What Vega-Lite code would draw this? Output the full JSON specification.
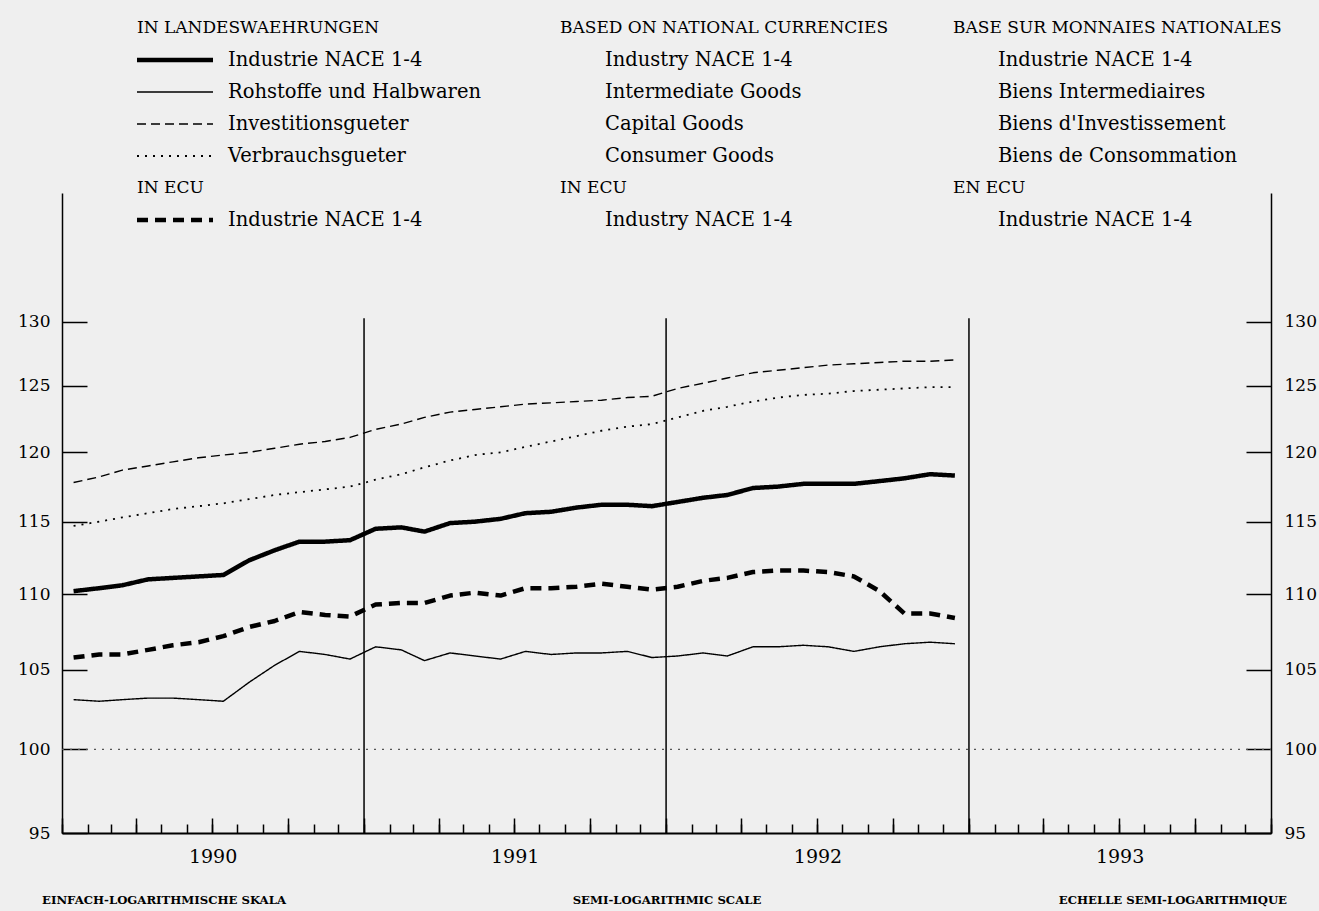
{
  "$schema": "https://vega.github.io/schema/vega-lite/v6.json",
  "width": 1209,
  "height": 640,
  "autosize": {"type": "none"},
  "padding": {"left": 62, "top": 193, "right": 48, "bottom": 78},
  "background": "#efefef",
  "config": {
    "view": {"stroke": null},
    "font": "DejaVu Serif",
    "axis": {"labelFont": "DejaVu Serif", "labelColor": "#000", "domainColor": "#000", "tickColor": "#000", "grid": false, "title": null}
  },
  "datasets": {
    "series": [
      {"m": "1990-01-15", "s": "ind", "v": 110.2}, {"m": "1990-02-15", "s": "ind", "v": 110.4}, {"m": "1990-03-15", "s": "ind", "v": 110.6}, {"m": "1990-04-15", "s": "ind", "v": 111.0}, {"m": "1990-05-15", "s": "ind", "v": 111.1}, {"m": "1990-06-15", "s": "ind", "v": 111.2}, {"m": "1990-07-15", "s": "ind", "v": 111.3}, {"m": "1990-08-15", "s": "ind", "v": 112.3}, {"m": "1990-09-15", "s": "ind", "v": 113.0}, {"m": "1990-10-15", "s": "ind", "v": 113.6}, {"m": "1990-11-15", "s": "ind", "v": 113.6}, {"m": "1990-12-15", "s": "ind", "v": 113.7},
      {"m": "1991-01-15", "s": "ind", "v": 114.5}, {"m": "1991-02-15", "s": "ind", "v": 114.6}, {"m": "1991-03-15", "s": "ind", "v": 114.3}, {"m": "1991-04-15", "s": "ind", "v": 114.9}, {"m": "1991-05-15", "s": "ind", "v": 115.0}, {"m": "1991-06-15", "s": "ind", "v": 115.2}, {"m": "1991-07-15", "s": "ind", "v": 115.6}, {"m": "1991-08-15", "s": "ind", "v": 115.7}, {"m": "1991-09-15", "s": "ind", "v": 116.0}, {"m": "1991-10-15", "s": "ind", "v": 116.2}, {"m": "1991-11-15", "s": "ind", "v": 116.2}, {"m": "1991-12-15", "s": "ind", "v": 116.1},
      {"m": "1992-01-15", "s": "ind", "v": 116.4}, {"m": "1992-02-15", "s": "ind", "v": 116.7}, {"m": "1992-03-15", "s": "ind", "v": 116.9}, {"m": "1992-04-15", "s": "ind", "v": 117.4}, {"m": "1992-05-15", "s": "ind", "v": 117.5}, {"m": "1992-06-15", "s": "ind", "v": 117.7}, {"m": "1992-07-15", "s": "ind", "v": 117.7}, {"m": "1992-08-15", "s": "ind", "v": 117.7}, {"m": "1992-09-15", "s": "ind", "v": 117.9}, {"m": "1992-10-15", "s": "ind", "v": 118.1}, {"m": "1992-11-15", "s": "ind", "v": 118.4}, {"m": "1992-12-15", "s": "ind", "v": 118.3},

      {"m": "1990-01-15", "s": "int", "v": 103.1}, {"m": "1990-02-15", "s": "int", "v": 103.0}, {"m": "1990-03-15", "s": "int", "v": 103.1}, {"m": "1990-04-15", "s": "int", "v": 103.2}, {"m": "1990-05-15", "s": "int", "v": 103.2}, {"m": "1990-06-15", "s": "int", "v": 103.1}, {"m": "1990-07-15", "s": "int", "v": 103.0}, {"m": "1990-08-15", "s": "int", "v": 104.2}, {"m": "1990-09-15", "s": "int", "v": 105.3}, {"m": "1990-10-15", "s": "int", "v": 106.2}, {"m": "1990-11-15", "s": "int", "v": 106.0}, {"m": "1990-12-15", "s": "int", "v": 105.7},
      {"m": "1991-01-15", "s": "int", "v": 106.5}, {"m": "1991-02-15", "s": "int", "v": 106.3}, {"m": "1991-03-15", "s": "int", "v": 105.6}, {"m": "1991-04-15", "s": "int", "v": 106.1}, {"m": "1991-05-15", "s": "int", "v": 105.9}, {"m": "1991-06-15", "s": "int", "v": 105.7}, {"m": "1991-07-15", "s": "int", "v": 106.2}, {"m": "1991-08-15", "s": "int", "v": 106.0}, {"m": "1991-09-15", "s": "int", "v": 106.1}, {"m": "1991-10-15", "s": "int", "v": 106.1}, {"m": "1991-11-15", "s": "int", "v": 106.2}, {"m": "1991-12-15", "s": "int", "v": 105.8},
      {"m": "1992-01-15", "s": "int", "v": 105.9}, {"m": "1992-02-15", "s": "int", "v": 106.1}, {"m": "1992-03-15", "s": "int", "v": 105.9}, {"m": "1992-04-15", "s": "int", "v": 106.5}, {"m": "1992-05-15", "s": "int", "v": 106.5}, {"m": "1992-06-15", "s": "int", "v": 106.6}, {"m": "1992-07-15", "s": "int", "v": 106.5}, {"m": "1992-08-15", "s": "int", "v": 106.2}, {"m": "1992-09-15", "s": "int", "v": 106.5}, {"m": "1992-10-15", "s": "int", "v": 106.7}, {"m": "1992-11-15", "s": "int", "v": 106.8}, {"m": "1992-12-15", "s": "int", "v": 106.7},

      {"m": "1990-01-15", "s": "cap", "v": 117.8}, {"m": "1990-02-15", "s": "cap", "v": 118.2}, {"m": "1990-03-15", "s": "cap", "v": 118.7}, {"m": "1990-04-15", "s": "cap", "v": 119.0}, {"m": "1990-05-15", "s": "cap", "v": 119.3}, {"m": "1990-06-15", "s": "cap", "v": 119.6}, {"m": "1990-07-15", "s": "cap", "v": 119.8}, {"m": "1990-08-15", "s": "cap", "v": 120.0}, {"m": "1990-09-15", "s": "cap", "v": 120.3}, {"m": "1990-10-15", "s": "cap", "v": 120.6}, {"m": "1990-11-15", "s": "cap", "v": 120.8}, {"m": "1990-12-15", "s": "cap", "v": 121.1},
      {"m": "1991-01-15", "s": "cap", "v": 121.7}, {"m": "1991-02-15", "s": "cap", "v": 122.1}, {"m": "1991-03-15", "s": "cap", "v": 122.6}, {"m": "1991-04-15", "s": "cap", "v": 123.0}, {"m": "1991-05-15", "s": "cap", "v": 123.2}, {"m": "1991-06-15", "s": "cap", "v": 123.4}, {"m": "1991-07-15", "s": "cap", "v": 123.6}, {"m": "1991-08-15", "s": "cap", "v": 123.7}, {"m": "1991-09-15", "s": "cap", "v": 123.8}, {"m": "1991-10-15", "s": "cap", "v": 123.9}, {"m": "1991-11-15", "s": "cap", "v": 124.1}, {"m": "1991-12-15", "s": "cap", "v": 124.2},
      {"m": "1992-01-15", "s": "cap", "v": 124.8}, {"m": "1992-02-15", "s": "cap", "v": 125.2}, {"m": "1992-03-15", "s": "cap", "v": 125.6}, {"m": "1992-04-15", "s": "cap", "v": 126.0}, {"m": "1992-05-15", "s": "cap", "v": 126.2}, {"m": "1992-06-15", "s": "cap", "v": 126.4}, {"m": "1992-07-15", "s": "cap", "v": 126.6}, {"m": "1992-08-15", "s": "cap", "v": 126.7}, {"m": "1992-09-15", "s": "cap", "v": 126.8}, {"m": "1992-10-15", "s": "cap", "v": 126.9}, {"m": "1992-11-15", "s": "cap", "v": 126.9}, {"m": "1992-12-15", "s": "cap", "v": 127.0},

      {"m": "1990-01-15", "s": "con", "v": 114.7}, {"m": "1990-02-15", "s": "con", "v": 115.0}, {"m": "1990-03-15", "s": "con", "v": 115.3}, {"m": "1990-04-15", "s": "con", "v": 115.6}, {"m": "1990-05-15", "s": "con", "v": 115.9}, {"m": "1990-06-15", "s": "con", "v": 116.1}, {"m": "1990-07-15", "s": "con", "v": 116.3}, {"m": "1990-08-15", "s": "con", "v": 116.6}, {"m": "1990-09-15", "s": "con", "v": 116.9}, {"m": "1990-10-15", "s": "con", "v": 117.1}, {"m": "1990-11-15", "s": "con", "v": 117.3}, {"m": "1990-12-15", "s": "con", "v": 117.5},
      {"m": "1991-01-15", "s": "con", "v": 118.0}, {"m": "1991-02-15", "s": "con", "v": 118.4}, {"m": "1991-03-15", "s": "con", "v": 118.9}, {"m": "1991-04-15", "s": "con", "v": 119.4}, {"m": "1991-05-15", "s": "con", "v": 119.8}, {"m": "1991-06-15", "s": "con", "v": 120.0}, {"m": "1991-07-15", "s": "con", "v": 120.4}, {"m": "1991-08-15", "s": "con", "v": 120.8}, {"m": "1991-09-15", "s": "con", "v": 121.2}, {"m": "1991-10-15", "s": "con", "v": 121.6}, {"m": "1991-11-15", "s": "con", "v": 121.9}, {"m": "1991-12-15", "s": "con", "v": 122.1},
      {"m": "1992-01-15", "s": "con", "v": 122.6}, {"m": "1992-02-15", "s": "con", "v": 123.1}, {"m": "1992-03-15", "s": "con", "v": 123.4}, {"m": "1992-04-15", "s": "con", "v": 123.8}, {"m": "1992-05-15", "s": "con", "v": 124.1}, {"m": "1992-06-15", "s": "con", "v": 124.3}, {"m": "1992-07-15", "s": "con", "v": 124.4}, {"m": "1992-08-15", "s": "con", "v": 124.6}, {"m": "1992-09-15", "s": "con", "v": 124.7}, {"m": "1992-10-15", "s": "con", "v": 124.8}, {"m": "1992-11-15", "s": "con", "v": 124.9}, {"m": "1992-12-15", "s": "con", "v": 124.9},

      {"m": "1990-01-15", "s": "ecu", "v": 105.8}, {"m": "1990-02-15", "s": "ecu", "v": 106.0}, {"m": "1990-03-15", "s": "ecu", "v": 106.0}, {"m": "1990-04-15", "s": "ecu", "v": 106.3}, {"m": "1990-05-15", "s": "ecu", "v": 106.6}, {"m": "1990-06-15", "s": "ecu", "v": 106.8}, {"m": "1990-07-15", "s": "ecu", "v": 107.2}, {"m": "1990-08-15", "s": "ecu", "v": 107.8}, {"m": "1990-09-15", "s": "ecu", "v": 108.2}, {"m": "1990-10-15", "s": "ecu", "v": 108.8}, {"m": "1990-11-15", "s": "ecu", "v": 108.6}, {"m": "1990-12-15", "s": "ecu", "v": 108.5},
      {"m": "1991-01-15", "s": "ecu", "v": 109.3}, {"m": "1991-02-15", "s": "ecu", "v": 109.4}, {"m": "1991-03-15", "s": "ecu", "v": 109.4}, {"m": "1991-04-15", "s": "ecu", "v": 109.9}, {"m": "1991-05-15", "s": "ecu", "v": 110.1}, {"m": "1991-06-15", "s": "ecu", "v": 109.9}, {"m": "1991-07-15", "s": "ecu", "v": 110.4}, {"m": "1991-08-15", "s": "ecu", "v": 110.4}, {"m": "1991-09-15", "s": "ecu", "v": 110.5}, {"m": "1991-10-15", "s": "ecu", "v": 110.7}, {"m": "1991-11-15", "s": "ecu", "v": 110.5}, {"m": "1991-12-15", "s": "ecu", "v": 110.3},
      {"m": "1992-01-15", "s": "ecu", "v": 110.5}, {"m": "1992-02-15", "s": "ecu", "v": 110.9}, {"m": "1992-03-15", "s": "ecu", "v": 111.1}, {"m": "1992-04-15", "s": "ecu", "v": 111.5}, {"m": "1992-05-15", "s": "ecu", "v": 111.6}, {"m": "1992-06-15", "s": "ecu", "v": 111.6}, {"m": "1992-07-15", "s": "ecu", "v": 111.5}, {"m": "1992-08-15", "s": "ecu", "v": 111.2}, {"m": "1992-09-15", "s": "ecu", "v": 110.2}, {"m": "1992-10-15", "s": "ecu", "v": 108.7}, {"m": "1992-11-15", "s": "ecu", "v": 108.7}, {"m": "1992-12-15", "s": "ecu", "v": 108.4}
    ],
    "years": [{"d": "1991-01-01"}, {"d": "1992-01-01"}, {"d": "1993-01-01"}],
    "legend": [
      {"row": 1, "col": 1, "t": "IN LANDESWAEHRUNGEN"},
      {"row": 1, "col": 4, "t": "BASED ON NATIONAL CURRENCIES"},
      {"row": 1, "col": 7, "t": "BASE SUR MONNAIES NATIONALES"},
      {"row": 2, "col": 3, "t": "Industrie NACE 1-4"},
      {"row": 2, "col": 5, "t": "Industry NACE 1-4"},
      {"row": 2, "col": 8, "t": "Industrie NACE 1-4"},
      {"row": 3, "col": 3, "t": "Rohstoffe und Halbwaren"},
      {"row": 3, "col": 5, "t": "Intermediate Goods"},
      {"row": 3, "col": 8, "t": "Biens Intermediaires"},
      {"row": 4, "col": 3, "t": "Investitionsgueter"},
      {"row": 4, "col": 5, "t": "Capital Goods"},
      {"row": 4, "col": 8, "t": "Biens d'Investissement"},
      {"row": 5, "col": 3, "t": "Verbrauchsgueter"},
      {"row": 5, "col": 5, "t": "Consumer Goods"},
      {"row": 5, "col": 8, "t": "Biens de Consommation"},
      {"row": 6, "col": 1, "t": "IN ECU"},
      {"row": 6, "col": 4, "t": "IN ECU"},
      {"row": 6, "col": 7, "t": "EN ECU"},
      {"row": 7, "col": 3, "t": "Industrie NACE 1-4"},
      {"row": 7, "col": 5, "t": "Industry NACE 1-4"},
      {"row": 7, "col": 8, "t": "Industrie NACE 1-4"},
      {"row": 8, "col": 0, "t": "EINFACH-LOGARITHMISCHE SKALA"},
      {"row": 8, "col": 6, "t": "SEMI-LOGARITHMIC SCALE"},
      {"row": 8, "col": 9, "t": "ECHELLE SEMI-LOGARITHMIQUE"}
    ],
    "samples": [
      {"s": "ind", "row": 2}, {"s": "int", "row": 3}, {"s": "cap", "row": 4}, {"s": "con", "row": 5}, {"s": "ecu", "row": 7}
    ]
  },
  "resolve": {"scale": {"x": "independent", "y": "independent"}},
  "layer": [
    {
      "resolve": {"axis": {"x": "independent", "y": "independent"}},
      "layer": [
        {
          "data": {"name": "series"},
          "mark": {"type": "line", "color": "#000", "strokeJoin": "round"},
          "encoding": {
            "x": {
              "field": "m", "type": "temporal",
              "scale": {"type": "utc", "domain": [{"year": 1990, "month": 1, "date": 1, "utc": true}, {"year": 1994, "month": 1, "date": 1, "utc": true}]},
              "axis": {"orient": "bottom", "labels": false, "tickCount": {"interval": "month", "step": 1}, "tickSize": -9, "tickWidth": 1.5, "domainWidth": 2, "grid": false}
            },
            "y": {
              "field": "v", "type": "quantitative",
              "scale": {"type": "log", "domain": [95, 140.7], "nice": false, "zero": false},
              "axis": {"orient": "left", "values": [95, 100, 105, 110, 115, 120, 125, 130], "format": "d", "tickSize": -25, "tickWidth": 1.5, "domainWidth": 1.5, "labelFontSize": 17, "labelPadding": 37}
            },
            "strokeDash": {"field": "s", "type": "nominal", "scale": {"domain": ["ind", "int", "cap", "con", "ecu"], "range": [[1, 0], [1, 0], [9, 5], [2, 6], [11, 7]]}, "legend": null},
            "strokeWidth": {"condition": [{"test": "datum.s == 'ind' || datum.s == 'ecu'", "value": 4.5}, {"test": "datum.s == 'con'", "value": 1.8}], "value": 1.4}
          }
        },
        {
          "data": {"name": "years"},
          "mark": {"type": "rule", "color": "#000", "strokeWidth": 1.5},
          "encoding": {
            "x": {"field": "d", "type": "temporal", "axis": {"orient": "bottom", "labels": false, "domain": false, "tickCount": {"interval": "month", "step": 3}, "tickSize": -15, "tickWidth": 1.5, "grid": false}},
            "y": {"datum": 95, "type": "quantitative", "axis": null},
            "y2": {"datum": 130.3}
          }
        },
        {
          "data": {"values": [{}]},
          "mark": {"type": "rule", "color": "#555", "strokeWidth": 1.2, "strokeDash": [2, 6]},
          "encoding": {
            "x": {"datum": {"year": 1990, "month": 1, "date": 1, "utc": true}, "type": "temporal",
              "axis": {"orient": "bottom", "domain": false, "ticks": false, "grid": false, "values": [{"year": 1990, "month": 7, "date": 2, "utc": true}, {"year": 1991, "month": 7, "date": 2, "utc": true}, {"year": 1992, "month": 7, "date": 2, "utc": true}, {"year": 1993, "month": 7, "date": 2, "utc": true}], "labelExpr": "utcFormat(datum.value, '%Y')", "labelFontSize": 19, "labelPadding": 14}},
            "x2": {"datum": {"year": 1994, "month": 1, "date": 1, "utc": true}},
            "y": {"datum": 100, "type": "quantitative",
              "axis": {"orient": "right", "values": [95, 100, 105, 110, 115, 120, 125, 130], "format": "d", "tickSize": -25, "tickWidth": 1.5, "domainWidth": 1.5, "labelFontSize": 17, "labelPadding": 38}}
          }
        }
      ]
    },
    {
      "layer": [
        {
          "data": {"name": "legend"},
          "transform": [{"filter": "datum.row < 8 && (datum.col == 3 || datum.col == 5 || datum.col == 8)"}],
          "mark": {"type": "text", "align": "left", "baseline": "middle", "font": "DejaVu Serif", "fontSize": 19.5, "color": "#000"},
          "encoding": {
            "x": {"field": "col", "type": "quantitative", "scale": {"domain": [0, 1, 2, 3, 4, 5, 6, 7, 8, 9], "range": [-20, 75, 151, 166, 498, 543, 605, 891, 936, 1225], "zero": false, "nice": false}, "axis": null},
            "y": {"field": "row", "type": "quantitative", "scale": {"domain": [1, 7, 8], "range": [-165, 27, 707], "zero": false, "nice": false}, "axis": null},
            "text": {"field": "t"}
          }
        },
        {
          "data": {"name": "legend"},
          "transform": [{"filter": "datum.row < 8 && (datum.col == 1 || datum.col == 4 || datum.col == 7)"}],
          "mark": {"type": "text", "align": "left", "baseline": "middle", "font": "DejaVu Serif", "fontSize": 17, "color": "#000"},
          "encoding": {
            "x": {"field": "col", "type": "quantitative", "axis": null},
            "y": {"field": "row", "type": "quantitative", "axis": null},
            "text": {"field": "t"}
          }
        },
        {
          "data": {"name": "legend"},
          "transform": [{"filter": "datum.row == 8 && datum.col == 0"}],
          "mark": {"type": "text", "align": "left", "baseline": "middle", "font": "DejaVu Serif", "fontSize": 11.7, "fontWeight": "bold", "color": "#000"},
          "encoding": {
            "x": {"field": "col", "type": "quantitative", "axis": null},
            "y": {"field": "row", "type": "quantitative", "axis": null},
            "text": {"field": "t"}
          }
        },
        {
          "data": {"name": "legend"},
          "transform": [{"filter": "datum.row == 8 && datum.col == 6"}],
          "mark": {"type": "text", "align": "center", "baseline": "middle", "font": "DejaVu Serif", "fontSize": 11.7, "fontWeight": "bold", "color": "#000"},
          "encoding": {
            "x": {"field": "col", "type": "quantitative", "axis": null},
            "y": {"field": "row", "type": "quantitative", "axis": null},
            "text": {"field": "t"}
          }
        },
        {
          "data": {"name": "legend"},
          "transform": [{"filter": "datum.row == 8 && datum.col == 9"}],
          "mark": {"type": "text", "align": "right", "baseline": "middle", "font": "DejaVu Serif", "fontSize": 11.7, "fontWeight": "bold", "color": "#000"},
          "encoding": {
            "x": {"field": "col", "type": "quantitative", "axis": null},
            "y": {"field": "row", "type": "quantitative", "axis": null},
            "text": {"field": "t"}
          }
        },
        {
          "data": {"name": "samples"},
          "mark": {"type": "rule", "color": "#000"},
          "encoding": {
            "x": {"datum": 1, "type": "quantitative", "axis": null},
            "x2": {"datum": 2},
            "y": {"field": "row", "type": "quantitative", "axis": null},
            "strokeDash": {"field": "s", "type": "nominal", "legend": null},
            "strokeWidth": {"condition": [{"test": "datum.s == 'ind' || datum.s == 'ecu'", "value": 4.5}, {"test": "datum.s == 'con'", "value": 1.8}], "value": 1.4}
          }
        }
      ]
    }
  ]
}
